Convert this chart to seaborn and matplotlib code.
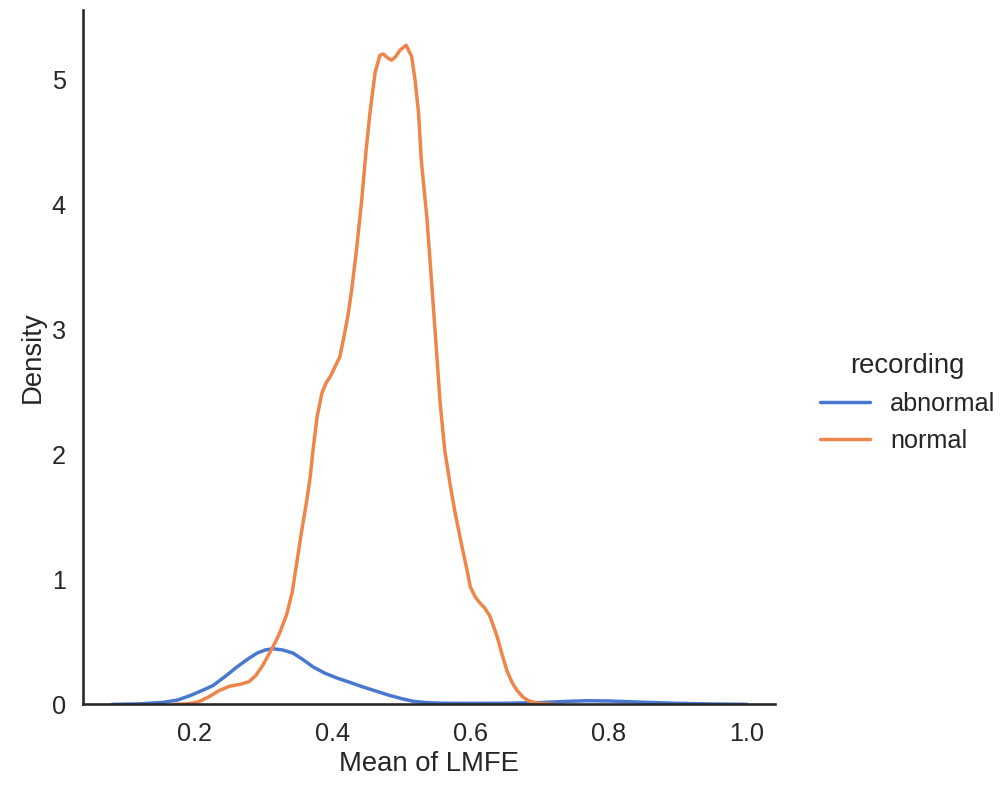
import pandas as pd
import matplotlib.pyplot as plt
import seaborn as sns

# Density curves (x = mean of LMFE, y = density)
abnormal_x = [0.08, 0.12, 0.154, 0.175, 0.193, 0.21, 0.226, 0.243, 0.261, 0.276,
              0.290, 0.302, 0.313, 0.327, 0.342, 0.356, 0.371, 0.388, 0.406, 0.425,
              0.443, 0.463, 0.483, 0.50, 0.516, 0.535, 0.56, 0.60, 0.65, 0.70,
              0.74, 0.77, 0.80, 0.85, 0.90, 0.95, 1.0]
abnormal_y = [0.0, 0.004, 0.016, 0.035, 0.07, 0.11, 0.15, 0.22, 0.30, 0.36,
              0.41, 0.435, 0.445, 0.435, 0.41, 0.36, 0.30, 0.25, 0.21, 0.175,
              0.14, 0.105, 0.07, 0.045, 0.025, 0.014, 0.009, 0.008, 0.009, 0.014,
              0.024, 0.029, 0.027, 0.017, 0.008, 0.003, 0.0]

normal_x = [0.17, 0.19, 0.205, 0.22, 0.235, 0.25, 0.265, 0.278, 0.288, 0.298,
            0.312, 0.322, 0.333, 0.341, 0.348, 0.355, 0.362, 0.367, 0.371, 0.377,
            0.384, 0.390, 0.396, 0.403, 0.410, 0.417, 0.422, 0.427, 0.434, 0.4416,
            0.448, 0.4536, 0.461, 0.468, 0.473, 0.479, 0.485, 0.491, 0.497, 0.506,
            0.514, 0.519, 0.524, 0.528, 0.532, 0.536, 0.543, 0.550, 0.555, 0.562,
            0.570, 0.577, 0.587, 0.594, 0.599, 0.606, 0.613, 0.620, 0.627, 0.633,
            0.638, 0.645, 0.652, 0.660, 0.667, 0.675, 0.683, 0.695, 0.72]
normal_y = [0.0, 0.005, 0.02, 0.06, 0.11, 0.145, 0.16, 0.18, 0.23, 0.31,
            0.45, 0.56, 0.72, 0.90, 1.15, 1.40, 1.63, 1.82, 2.03, 2.30,
            2.49, 2.57, 2.62, 2.70, 2.78, 2.97, 3.12, 3.31, 3.63, 4.03,
            4.43, 4.73, 5.05, 5.19, 5.20, 5.17, 5.15, 5.18, 5.23, 5.27,
            5.18, 4.99, 4.73, 4.35, 4.12, 3.90, 3.37, 2.83, 2.43, 2.03,
            1.75, 1.53, 1.26, 1.08, 0.94, 0.86, 0.81, 0.77, 0.71, 0.62,
            0.54, 0.40, 0.27, 0.17, 0.11, 0.06, 0.03, 0.01, 0.0]

df = pd.concat([
    pd.DataFrame({'Mean of LMFE': abnormal_x, 'Density': abnormal_y, 'recording': 'abnormal'}),
    pd.DataFrame({'Mean of LMFE': normal_x, 'Density': normal_y, 'recording': 'normal'}),
])

sns.set_theme(style='white', context='talk', palette='muted', font_scale=1.1)
plt.rcParams['font.family'] = ['Liberation Sans', 'DejaVu Sans']

g = sns.relplot(data=df, x='Mean of LMFE', y='Density', hue='recording',
                kind='line', sort=False, linewidth=2.5, height=6, aspect=1)
g.fig.set_size_inches(10, 7.87)
g.fig.subplots_adjust(left=0.083, right=0.775, bottom=0.105, top=0.987)
ax = g.ax
ax.set_xlim(0.0377, 1.0406)
ax.set_ylim(0, 5.55)
ax.set_xticks([0.2, 0.4, 0.6, 0.8, 1.0])
sns.move_legend(g, 'center left', bbox_to_anchor=(0.797, 0.488), frameon=False)

g.fig.savefig('out.png', dpi=100)
